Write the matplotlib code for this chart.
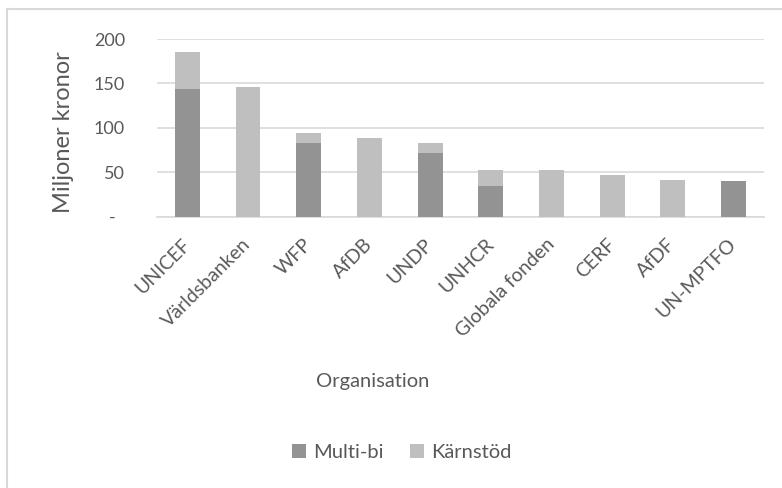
import matplotlib.pyplot as plt
import matplotlib.patches as mpatches
import numpy as np

# -------------------- Data ----------------------- #
organisations = ['UNICEF', 'Världsbanken', 'WFP', 'AfDB', 'UNDP', 'UNHCR',
                 'Globala fonden', 'CERF', 'AfDF', 'UN-MPTFO']
multi_bi = [144, 0, 83, 0, 72, 35, 0, 0, 0, 40]
karnstod = [41, 146, 11, 89, 11, 17, 52, 47, 41, 0]

dark = '#939393'
light = '#bfbfbf'
text_col = '#595959'

plt.rcParams['font.family'] = ['Lato', 'DejaVu Sans']

# -------------------- Plot ----------------------- #
fig = plt.figure(figsize=(7.82, 4.88), dpi=100)
ax = fig.add_axes([0.2008, 0.556, 0.776, 0.364])

x = np.arange(len(organisations))
ax.bar(x, multi_bi, width=0.41, color=dark, label='Multi-bi', zorder=3)
ax.bar(x, karnstod, width=0.41, bottom=multi_bi, color=light, label='Kärnstöd', zorder=3)

ax.set_xlim(-0.5, len(organisations) - 0.5)
ax.set_ylim(0, 200)
ax.set_yticks([0, 50, 100, 150, 200])
ax.set_yticklabels(['-  ', '50', '100', '150', '200'])
ax.set_xticks(x)
ax.set_xticklabels(organisations, rotation=45, ha='right', va='center', rotation_mode='anchor')
ax.tick_params(axis='y', length=0, labelsize=13, labelcolor=text_col, pad=23)
ax.tick_params(axis='x', length=0, labelsize=14, labelcolor=text_col, pad=18)

ax.yaxis.grid(True, color='#d9d9d9', linewidth=1.2, zorder=0)
for s in ['top', 'right', 'left']:
    ax.spines[s].set_visible(False)
ax.spines['bottom'].set_color('#d9d9d9')
ax.spines['bottom'].set_linewidth(1.2)

# axis titles
fig.text(0.081, 0.73, 'Miljoner kronor', rotation=90, fontsize=17, color=text_col,
         ha='center', va='center')
fig.text(0.476, 0.219, 'Organisation', fontsize=14.5, color=text_col, ha='center', va='center')

handles, labels = ax.get_legend_handles_labels()
fig.legend(handles, labels, loc='center', bbox_to_anchor=(0.514, 0.072), ncol=2, frameon=False,
           fontsize=14.5, labelcolor=text_col, handlelength=0.7, handleheight=0.7,
           handletextpad=0.35, columnspacing=1.3)

# chart frame (cropped at right and bottom)
fig.add_artist(plt.Line2D([0.009, 0.009], [0.0, 0.981], transform=fig.transFigure,
                          color='#d9d9d9', linewidth=1.5))
fig.add_artist(plt.Line2D([0.009, 1.0], [0.981, 0.981], transform=fig.transFigure,
                          color='#d9d9d9', linewidth=1.5))

fig.savefig('out.png', dpi=100)
